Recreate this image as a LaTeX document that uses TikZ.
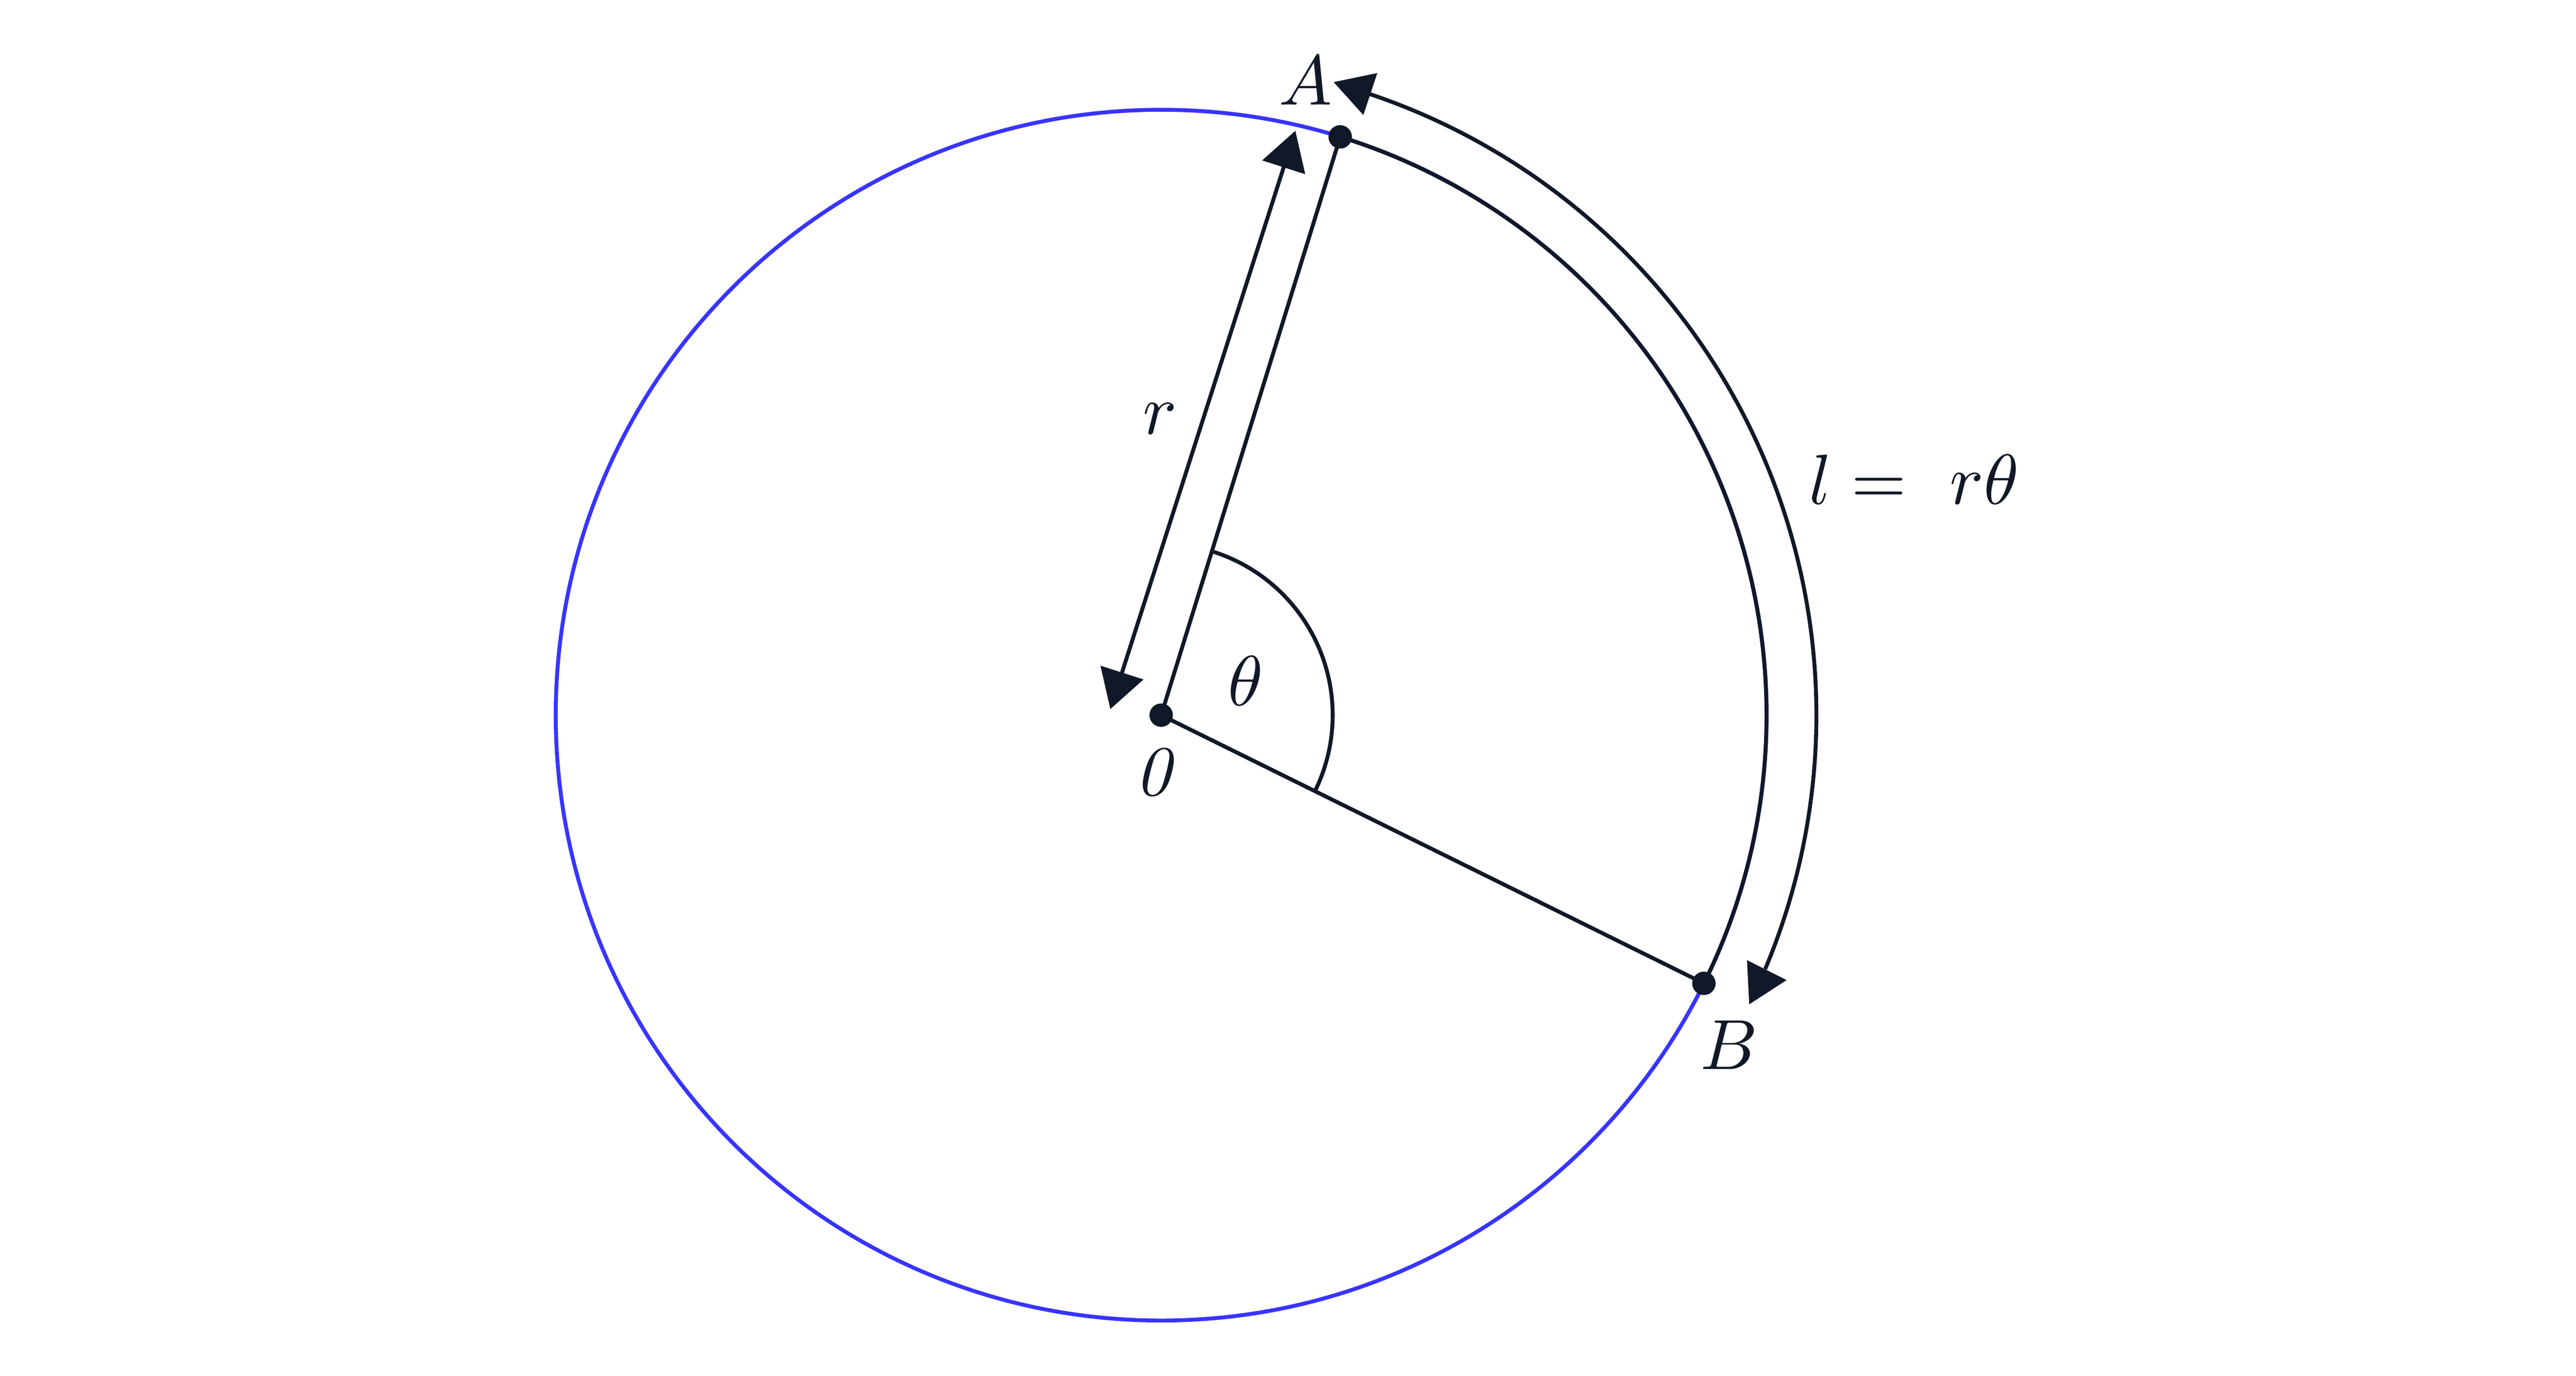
\documentclass[tikz,border=0pt]{standalone}
\usetikzlibrary{arrows.meta}
\definecolor{ink}{RGB}{17,24,39}
\definecolor{rim}{RGB}{56,52,255}

\begin{document}
\begin{tikzpicture}[line width=0.55pt, color=ink,
    dot/.style={circle, fill=ink, inner sep=0pt, minimum size=3.3pt}]
  \useasboundingbox (-5.754,-3.273) rectangle (7.011,3.544);
  \coordinate (O) at (0,0);
  \coordinate (A) at (72.8:3);
  \coordinate (B) at (-26.3:3);

  % circle, black arc from B to A
  \draw [rim] (O) circle (3cm);
  \draw (B) arc (-26.3:72.8:3);
  \draw (A) -- (O) -- (B);
  \draw (-26.3:0.85) arc (-26.3:72.8:0.85);

  % radius arrow
  \coordinate (r0) at (-0.252,0.030);
  \coordinate (r1) at (0.665,2.896);
  \draw [{Triangle[length=0.19cm,width=0.219cm]}-{Triangle[length=0.19cm,width=0.219cm]}] (r0) -- (r1);

  % arc length arrow
  \coordinate (s0) at (71.5:3.247);
  \coordinate (s1) at (-22.8:3.247);
  \draw (s0) arc (71.5:-22.8:3.247);
  \fill (0.855,3.137) -- (1.071,3.182) -- (1.002,2.974) -- cycle;
  \fill (2.903,-1.214) -- (2.914,-1.433) -- (3.099,-1.313) -- cycle;

  \node [dot] (o) at (O) {};
  \node [dot] (a) at (A) {};
  \node [dot] (b) at (B) {};

  \node (lA) at (0.715,3.145) {$A$};
  \node (lB) at (2.815,-1.634) {$B$};
  \node (lO) at (-0.018,-0.282) {$\mathit{0}$};
  \node (lr) at (-0.005,1.470) {$r$};
  \node (lt) at (0.418,0.171) {$\theta$};
  \node [anchor=base] (len) at (3.73,1.045) {$l = \ r\theta$};
\end{tikzpicture}
\end{document}
